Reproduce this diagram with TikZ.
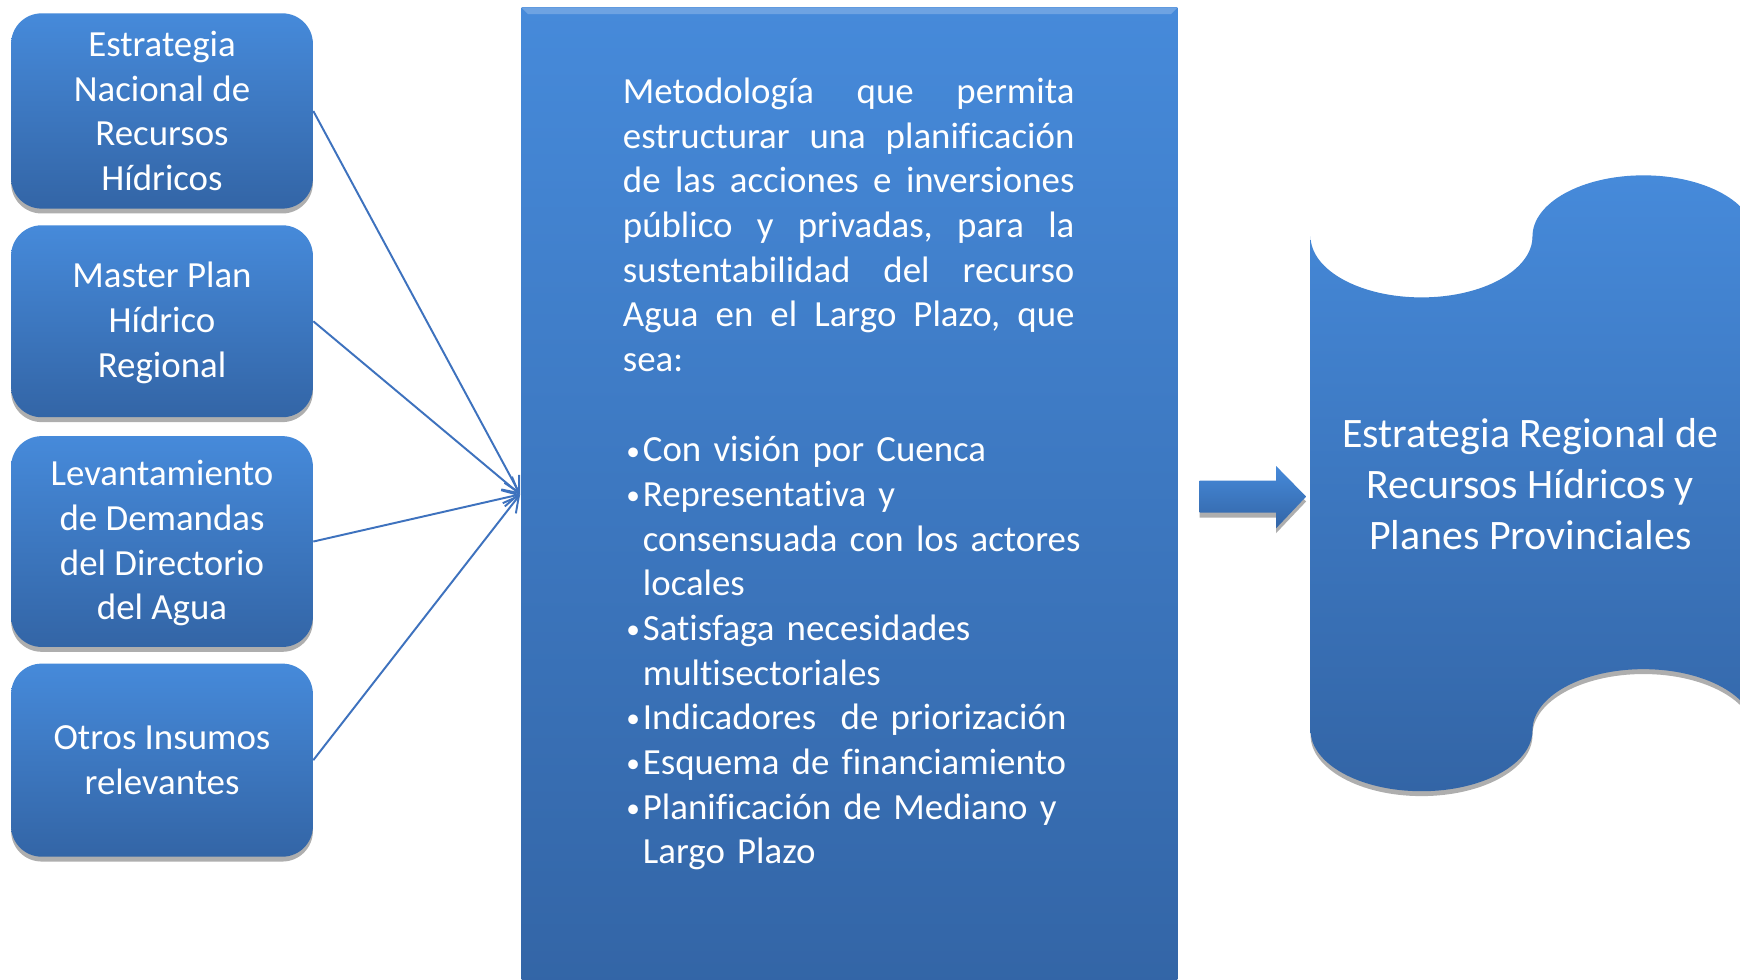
\documentclass[tikz,border=0pt]{standalone}
\usepackage{fontspec}
\setmainfont{Carlito}[Ligatures={NoCommon,NoContextual}]
\usetikzlibrary{arrows.meta,shadows,calc}
\definecolor{btop}{RGB}{70,138,218}
\definecolor{bbot}{RGB}{51,101,166}
\definecolor{lnc}{RGB}{62,114,190}
\begin{document}
\begin{tikzpicture}[x=0.02cm,y=0.02cm,
  lbox/.style={rectangle, rounded corners=0.55cm, top color=btop, bottom color=bbot,
    text=white, align=center, font=\fontsize{18.9}{23}\selectfont,
    minimum width=5.44cm, inner sep=0pt,
    drop shadow={opacity=0.45, shadow xshift=0pt, shadow yshift=-2.5pt, fill=black!70}},
  cbox/.style={rectangle, top color=btop, bottom color=bbot, inner sep=0pt,
    drop shadow={opacity=0.35, shadow xshift=0pt, shadow yshift=-2pt, fill=black!70}},
  conn/.style={draw=lnc, line width=1pt, -{Straight Barb[length=0.28cm,width=0.3cm,line width=1pt]}},
  ptext/.style={text=white, font=\fontsize{18.9}{22.9}\selectfont, align=left, inner sep=0pt, anchor=north west, text width=8.3cm},
  shapefill/.style={top color=btop, bottom color=bbot,
    drop shadow={opacity=0.45, shadow xshift=0pt, shadow yshift=-2.5pt, fill=black!70}}
]
\useasboundingbox (0,0) rectangle (1568,-883);
\fill[white] (0,0) rectangle (1568,-883);

% left boxes
\node[lbox, minimum height=3.52cm] (b1) at (146,-100) {Estrategia\\Nacional de\\Recursos\\Hídricos};
\node[lbox, minimum height=3.46cm, text depth=0pt] (b2) at (146,-289.5) {\raisebox{0pt}{}Master Plan\\Hídrico\\Regional\vspace*{-0.05cm}};
\node[lbox, minimum height=3.80cm] (b3) at (146,-488) {Levantamiento\\de Demandas\\del Directorio\\del Agua\vspace*{-0.06cm}};
\node[lbox, minimum height=3.48cm] (b4) at (146,-685) {Otros Insumos\\relevantes};

% centre box
\node[cbox, minimum width=11.82cm, minimum height=17.7cm] (mid) at (765.5,-449.5) {};
\fill[white, opacity=0.22] (mid.north west) -- (mid.north east) -- ++(-6,-6) -- ($(mid.north west)+(6,-6)$) -- cycle;
\coordinate (tgt) at ($(mid.west)+(-1,4)$);

% connectors
\draw[conn] (b1.east) -- (tgt);
\draw[conn] (b2.east) -- (tgt);
\draw[conn] (b3.east) -- (tgt);
\draw[conn] (b4.east) -- (tgt);

% centre text
\newcommand{\jl}[1]{\makebox[8.14cm][s]{#1}}
\newcommand{\bul}{\makebox[0.36cm][l]{\hspace{0.06cm}\raisebox{0.9pt}{\fontsize{14}{14}\selectfont •}}}
\newcommand{\ind}{\hspace*{0.36cm}}
\node[ptext] (p1) at (561,-70) {\jl{Metodología\hfill que\hfill permita}\\
\jl{estructurar\hfill una\hfill planificación}\\
\jl{de\hfill las\hfill acciones\hfill e\hfill inversiones}\\
\jl{público\hfill y\hfill privadas,\hfill para\hfill la}\\
\jl{sustentabilidad\hfill del\hfill recurso}\\
\jl{Agua\hfill en\hfill el\hfill Largo\hfill Plazo,\hfill que}\\
sea:};
\node[ptext] (p2) at (561,-393) {\bul Con visión por Cuenca\\
\bul Representativa y\\
\ind consensuada con los actores\\
\ind locales\\
\bul Satisfaga necesidades\\
\ind multisectoriales\\
\bul Indicadores\ \ de priorización\\
\bul Esquema de financiamiento\\
\bul Planificación de Mediano y\\
\ind Largo Plazo};

% block arrow
\path[shapefill] (1081,-433) -- (1150,-433) -- (1150,-420) -- (1177,-447.5) -- (1150,-476) -- (1150,-462) -- (1081,-462) -- cycle;

% punched tape shape
\path[shapefill] (1181,-213)
  arc[start angle=180, end angle=360, x radius=100, y radius=55]
  arc[start angle=180, end angle=0, x radius=100, y radius=55]
  -- (1581,-658)
  arc[start angle=0, end angle=180, x radius=100, y radius=55]
  arc[start angle=360, end angle=180, x radius=100, y radius=55]
  -- cycle;
\node[text=white, align=center, font=\fontsize{21.5}{26.2}\selectfont, inner sep=0pt] (rt) at (1379,-436)
  {Estrategia Regional de\\Recursos Hídricos y\\Planes Provinciales};
\end{tikzpicture}
\end{document}
